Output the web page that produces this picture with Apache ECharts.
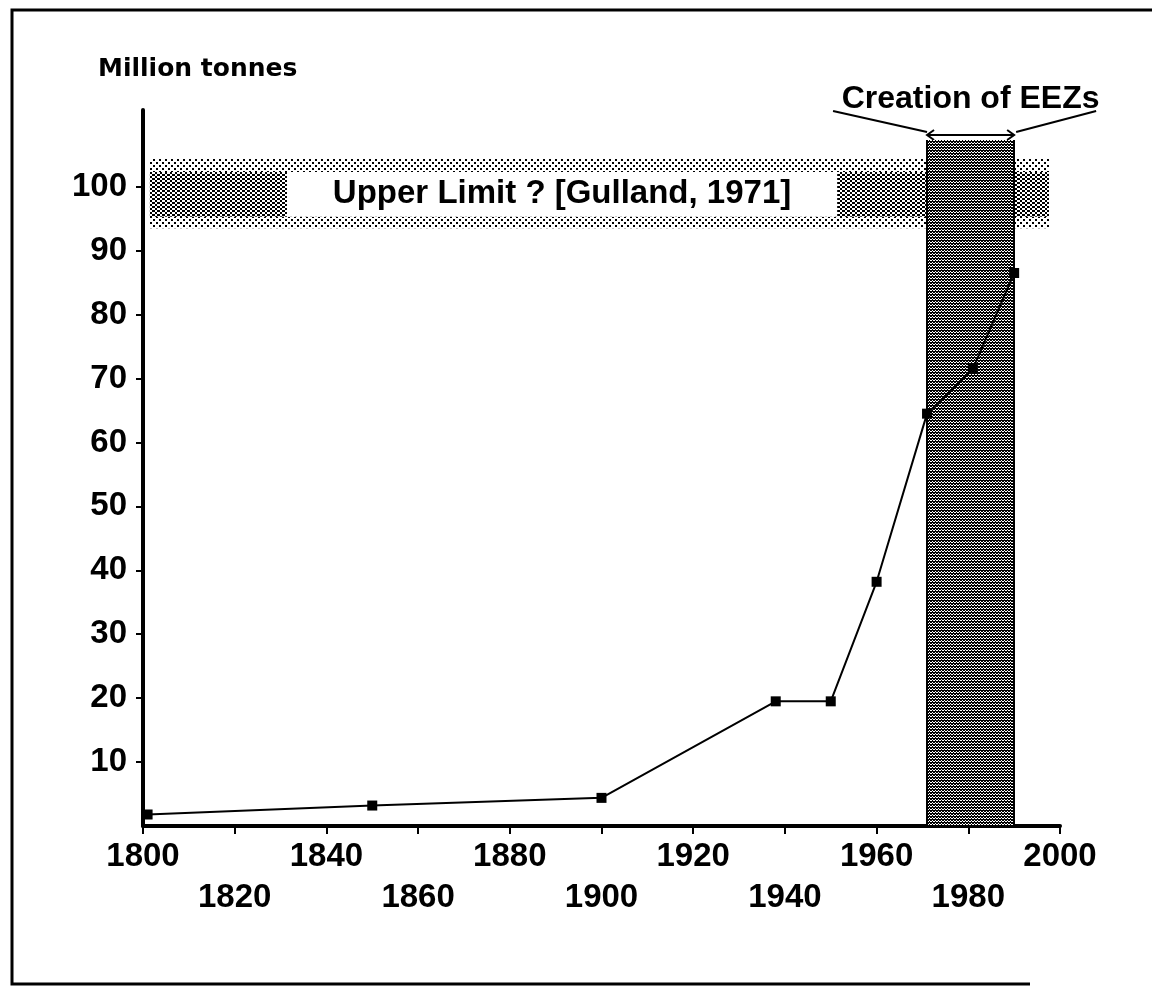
<!DOCTYPE html>
<html>
<head>
<meta charset="utf-8">
<script src="https://cdn.jsdelivr.net/npm/echarts@6/dist/echarts.min.js"></script>
<style>
  html, body { margin: 0; padding: 0; background: #fff; }
  #chart { width: 1152px; height: 986px; }
</style>
</head>
<body>
<div id="chart"></div>
<script>
// ---- data ----
const years = [1801, 1850, 1900, 1938, 1950, 1960, 1971, 1981, 1990];
const catchMt = [1.8, 3.2, 4.4, 19.5, 19.5, 38.2, 64.5, 71.5, 86.5];
const xTickLabels = [1800, 1820, 1840, 1860, 1880, 1900, 1920, 1940, 1960, 1980, 2000];
const yTickValues = [10, 20, 30, 40, 50, 60, 70, 80, 90, 100];
const upperLimitRange = [93.5, 104.5];
const eezYears = [1971, 1990];
const yAxisName = 'Million tonnes';
const upperLimitLabel = 'Upper Limit ? [Gulland, 1971]';
const eezLabel = 'Creation of EEZs';

// ---- styles ----
const FONT = '"Liberation Sans", Arial, sans-serif';
function makePattern(w, h, dots) {
  const c = document.createElement('canvas');
  c.width = w; c.height = h;
  const g = c.getContext('2d');
  g.fillStyle = '#fff'; g.fillRect(0, 0, w, h);
  g.fillStyle = '#000';
  dots.forEach(d => g.fillRect(d[0], d[1], d[2], d[3]));
  return { image: c, repeat: 'repeat' };
}
const lightPat = makePattern(6, 6, [[0, 0, 2, 2], [3, 3, 2, 2]]);
const densePat = makePattern(5, 4, [[0, 0, 2, 2], [2, 2, 2, 2], [4, 2, 1, 2]]);
const eezPat = makePattern(3, 3, [[0, 0, 2, 2], [2, 2, 1, 1], [2, 0, 1, 1]]);

const chart = echarts.init(document.getElementById('chart'), null, { renderer: 'canvas' });
const pairs = years.map((y, i) => [y, catchMt[i]]);

const bandStart = 1801.5, bandEnd = 1997.6;   // extent of the upper-limit band
const boxX = [1831.4, 1951.4], boxY = [95.3, 102.3];
const eezTop = 107.3;

chart.setOption({
  animation: false,
  backgroundColor: '#fff',
  grid: { left: 143, right: 92, top: 110, bottom: 160, outerBoundsMode: 'none' },
  xAxis: {
    type: 'value', min: 1800, max: 2000, interval: 20,
    splitLine: { show: false },
    axisLine: { onZero: false, lineStyle: { color: '#000', width: 4 } },
    axisTick: { show: true, length: 8, lineStyle: { color: '#000', width: 2 }, customValues: xTickLabels },
    axisLabel: {
      customValues: xTickLabels,
      color: '#000', fontFamily: FONT, fontWeight: 'bold', fontSize: 33,
      lineHeight: 41, margin: 10,
      formatter: v => (((v - 1800) / 20) % 2 === 1 ? '\n' + v : String(v))
    }
  },
  yAxis: {
    type: 'value', min: 0, max: 112, interval: 10,
    splitLine: { show: false },
    axisLine: { onZero: false, lineStyle: { color: '#000', width: 4 } },
    axisTick: { show: true, length: 7, lineStyle: { color: '#000', width: 2 }, customValues: yTickValues },
    axisLabel: {
      customValues: yTickValues,
      color: '#000', fontFamily: FONT, fontWeight: 'bold', fontSize: 33, margin: 16
    }
  },
  series: [
    {
      type: 'line', data: [], z: 1, silent: true,
      markArea: {
        silent: true,
        data: [
          [{ xAxis: bandStart, yAxis: upperLimitRange[0], itemStyle: { color: lightPat } },
           { xAxis: bandEnd, yAxis: upperLimitRange[1] }],
          [{ xAxis: bandStart, yAxis: boxY[0], itemStyle: { color: densePat } },
           { xAxis: bandEnd, yAxis: boxY[1] }],
          [{ xAxis: boxX[0], yAxis: boxY[0], itemStyle: { color: '#fff' },
             label: { show: true, position: 'inside', formatter: upperLimitLabel,
                      color: '#000', fontFamily: FONT, fontWeight: 'bold', fontSize: 33 } },
           { xAxis: boxX[1], yAxis: boxY[1] }]
        ]
      }
    },
    {
      type: 'line', data: [], z: 2, silent: true,
      markArea: {
        silent: true,
        data: [[{ xAxis: eezYears[0], yAxis: 0, itemStyle: { color: eezPat } },
                { xAxis: eezYears[1], yAxis: eezTop }]]
      },
      markLine: {
        silent: true, symbol: 'none', label: { show: false },
        lineStyle: { color: '#000', width: 2, type: 'solid' },
        data: [
          [{ coord: [eezYears[0], 0] }, { coord: [eezYears[0], eezTop] }],
          [{ coord: [eezYears[1], 0] }, { coord: [eezYears[1], eezTop] }]
        ]
      }
    },
    {
      type: 'line', data: pairs, z: 5,
      symbol: 'rect', symbolSize: 10,
      itemStyle: { color: '#000' },
      lineStyle: { color: '#000', width: 2 }
    }
  ]
});

// annotations positioned through the chart's own scales
const L = chart.convertToPixel({ gridIndex: 0 }, [eezYears[0], eezTop]);
const R = chart.convertToPixel({ gridIndex: 0 }, [eezYears[1], eezTop]);
const ay = L[1] - 5;
const cx = (L[0] + R[0]) / 2;
chart.setOption({
  graphic: [
    { type: 'polyline', silent: true, shape: { points: [[1030, 984], [12, 984], [12, 10], [1152, 10]] },
      style: { stroke: '#000', lineWidth: 3, fill: null } },
    { type: 'text', silent: true, left: 98, top: 57,
      style: { text: yAxisName, font: 'bold 25px "DejaVu Sans", sans-serif', fill: '#000' } },
    { type: 'text', silent: true, x: cx, y: 99,
      style: { text: eezLabel, font: 'bold 32px ' + FONT, fill: '#000', textAlign: 'center', textVerticalAlign: 'middle', align: 'center', verticalAlign: 'middle' } },
    { type: 'line', silent: true, shape: { x1: L[0], y1: ay, x2: R[0], y2: ay }, style: { stroke: '#000', lineWidth: 2 } },
    { type: 'polyline', silent: true, shape: { points: [[L[0] + 7, ay - 5], [L[0], ay], [L[0] + 7, ay + 5]] }, style: { stroke: '#000', lineWidth: 2, fill: null } },
    { type: 'polyline', silent: true, shape: { points: [[R[0] - 7, ay - 5], [R[0], ay], [R[0] - 7, ay + 5]] }, style: { stroke: '#000', lineWidth: 2, fill: null } },
    { type: 'line', silent: true, shape: { x1: L[0], y1: ay - 3, x2: L[0] - 94, y2: ay - 24 }, style: { stroke: '#000', lineWidth: 2 } },
    { type: 'line', silent: true, shape: { x1: R[0] + 2, y1: ay - 3, x2: R[0] + 82, y2: ay - 24 }, style: { stroke: '#000', lineWidth: 2 } }
  ]
});
</script>
</body>
</html>
